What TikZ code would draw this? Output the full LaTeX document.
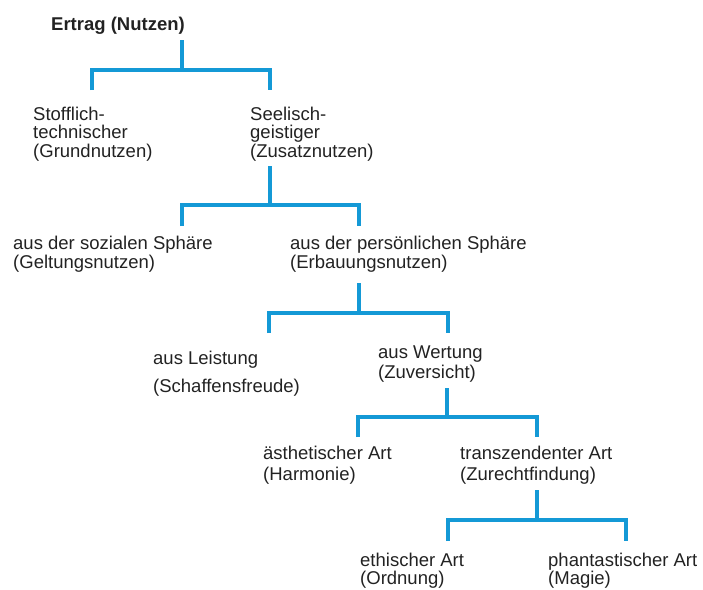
\documentclass[tikz,border=0pt]{standalone}
\usepackage{fontspec}
\setmainfont{Liberation Sans}
\definecolor{txt}{HTML}{222222}
\definecolor{ln}{HTML}{1499D6}
\begin{document}
\begin{tikzpicture}[x=1pt,y=-1pt,
  lbl/.style={anchor=base west, inner sep=0pt, font=\fontsize{18.5}{19}\selectfont, text=txt},
  conn/.style={draw=ln, line width=3.4pt, line join=miter}]
\useasboundingbox (0,0) rectangle (703,589);

% texts (baseline = visual centre + 6)
\node[lbl, font=\fontsize{18.5}{19}\selectfont\bfseries] (ertrag) at (51,30) {Ertrag (Nutzen)};

\node[lbl] (st1) at (33,120) {Stofflich-};
\node[lbl] (st2) at (33,138.5) {technischer};
\node[lbl] (st3) at (33,157) {(Grundnutzen)};

\node[lbl] (se1) at (250,120) {Seelisch-};
\node[lbl] (se2) at (250,138.5) {geistiger};
\node[lbl] (se3) at (250,157) {(Zusatznutzen)};

\node[lbl] (so1) at (13,249) {aus der sozialen Sphäre};
\node[lbl] (so2) at (13,268) {(Geltungsnutzen)};

\node[lbl] (pe1) at (290,249) {aus der persönlichen Sphäre};
\node[lbl] (pe2) at (290,268) {(Erbauungsnutzen)};

\node[lbl] (le1) at (153,364) {aus Leistung};
\node[lbl] (le2) at (153,392) {(Schaffensfreude)};

\node[lbl] (we1) at (378,358) {aus Wertung};
\node[lbl] (we2) at (378,378) {(Zuversicht)};

\node[lbl] (ae1) at (263,459) {ästhetischer Art};
\node[lbl] (ae2) at (263,480) {(Harmonie)};

\node[lbl] (tr1) at (460,459) {transzendenter Art};
\node[lbl] (tr2) at (460,480) {(Zurechtfindung)};

\node[lbl] (et1) at (360,566) {ethischer Art};
\node[lbl] (et2) at (360,584) {(Ordnung)};

\node[lbl] (ph1) at (548,566) {phantastischer Art};
\node[lbl] (ph2) at (548,584) {(Magie)};

% connector points
\coordinate (c0a) at (182,40);  \coordinate (c0b) at (182,70);
\coordinate (c0l) at (92,90);   \coordinate (c0r) at (270,90);
\coordinate (c1a) at (270,166); \coordinate (c1b) at (270,205);
\coordinate (c1l) at (182,226); \coordinate (c1r) at (359,226);
\coordinate (c2a) at (359,283); \coordinate (c2b) at (359,313);
\coordinate (c2l) at (269,333); \coordinate (c2r) at (448,333);
\coordinate (c3a) at (447,388); \coordinate (c3b) at (447,417);
\coordinate (c3l) at (358,437); \coordinate (c3r) at (537,437);
\coordinate (c4a) at (537,490); \coordinate (c4b) at (537,520);
\coordinate (c4l) at (448,541); \coordinate (c4r) at (626,541);

\foreach \i in {0,...,4}{
  \draw[conn] (c\i a) -- (c\i b);
  \draw[conn] (c\i l) |- (c\i b) -| (c\i r);
}
\end{tikzpicture}
\end{document}
